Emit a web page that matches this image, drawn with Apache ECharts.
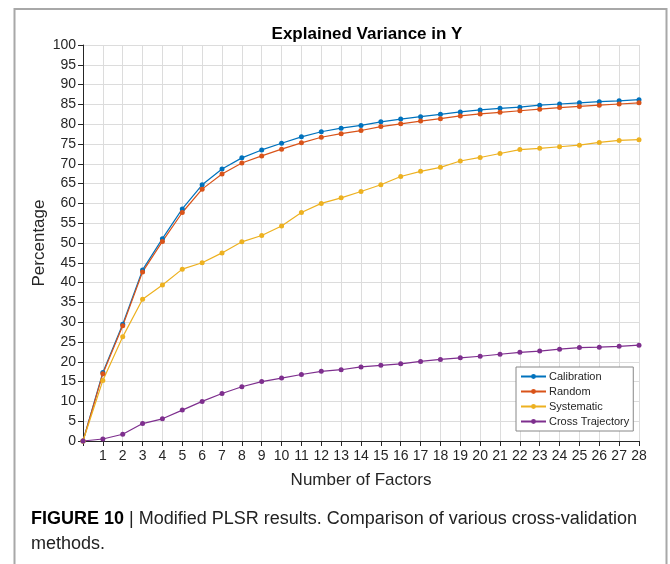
<!DOCTYPE html>
<html>
<head>
<meta charset="utf-8">
<script src="https://cdn.jsdelivr.net/npm/echarts@6/dist/echarts.min.js"></script>
<style>
html,body{margin:0;padding:0;background:#fff;}
#chart{width:670px;height:564px;}
</style>
</head>
<body>
<div id="chart"></div>
<script>
var factors = [0,1,2,3,4,5,6,7,8,9,10,11,12,13,14,15,16,17,18,19,20,21,22,23,24,25,26,27,28];
var calibration = [0,17.3,29.5,43.2,51.1,58.6,64.7,68.7,71.5,73.5,75.2,76.8,78.1,79.0,79.7,80.6,81.3,81.9,82.5,83.1,83.6,84.0,84.3,84.8,85.1,85.4,85.7,85.9,86.2];
var random = [0,17.0,29.1,42.7,50.4,57.7,63.6,67.4,70.2,72.0,73.7,75.3,76.7,77.6,78.4,79.4,80.1,80.8,81.4,82.1,82.6,83.0,83.4,83.8,84.2,84.5,84.8,85.1,85.4];
var systematic = [0,15.3,26.3,35.8,39.4,43.4,45.0,47.5,50.3,51.9,54.3,57.7,60.0,61.4,63.0,64.7,66.8,68.1,69.1,70.7,71.6,72.6,73.6,73.9,74.3,74.7,75.4,75.9,76.1];
var crossTrajectory = [0,0.5,1.7,4.4,5.6,7.8,10.0,12.0,13.7,15.0,15.9,16.8,17.6,18.0,18.7,19.1,19.5,20.1,20.6,21.0,21.4,21.9,22.4,22.7,23.2,23.6,23.7,23.9,24.2];
var seriesNames = ['Calibration','Random','Systematic','Cross Trajectory'];
var seriesColors = ['#0072BD','#D95319','#EDB120','#7E2F8E'];
var titleText = 'Explained Variance in Y';
var xName = 'Number of Factors';
var yName = 'Percentage';

function pairs(vals){ return factors.map(function(f,i){ return [f, vals[i]]; }); }
var allVals = [calibration, random, systematic, crossTrajectory];

var FONT = 'Liberation Sans, Arial, sans-serif';
var chart = echarts.init(document.getElementById('chart'), null, {renderer:'canvas'});
chart.setOption({
  animation:false,
  backgroundColor:'#fff',
  title:{text:titleText,left:362,top:21,textAlign:'center',
    textStyle:{fontFamily:FONT,fontSize:17,fontWeight:'bold',color:'#000'}},
  grid:{left:83,right:31,top:45,bottom:123,containLabel:false},
  legend:{
    orient:'vertical',left:516,top:367,
    data:seriesNames,
    itemWidth:25,itemHeight:6,itemGap:4,
    padding:[4,4,4,4],
    borderColor:'#888',borderWidth:1,backgroundColor:'#fff',
    textStyle:{fontFamily:FONT,fontSize:11,color:'#262626',padding:[0,0,0,-2]}
  },
  xAxis:{type:'value',min:0,max:28,interval:1,
    name:xName,nameLocation:'middle',nameGap:31,nameMoveOverlap:false,
    nameTextStyle:{fontFamily:FONT,fontSize:17,color:'#262626'},
    axisLine:{show:true,onZero:false,lineStyle:{color:'#262626',width:1}},
    axisTick:{show:true,inside:false,length:5,lineStyle:{color:'#262626'}},
    axisLabel:{fontFamily:FONT,fontSize:14,color:'#262626',margin:8,
      formatter:function(v){return v===0?'':String(v);}},
    splitLine:{show:true,lineStyle:{color:'#dcdcdc',width:1}}
  },
  yAxis:{type:'value',min:0,max:100,interval:5,
    name:yName,nameLocation:'middle',nameGap:35,nameRotate:90,nameMoveOverlap:false,
    nameTextStyle:{fontFamily:FONT,fontSize:17,color:'#262626'},
    axisLine:{show:true,onZero:false,lineStyle:{color:'#262626',width:1}},
    axisTick:{show:true,inside:false,length:5,lineStyle:{color:'#262626'}},
    axisLabel:{fontFamily:FONT,fontSize:14,color:'#262626',margin:7},
    splitLine:{show:true,lineStyle:{color:'#dcdcdc',width:1}}
  },
  series: seriesNames.map(function(n,i){
    return {name:n,type:'line',data:pairs(allVals[i]),
      symbol:'circle',symbolSize:5,showSymbol:true,
      lineStyle:{color:seriesColors[i],width:1.2},
      itemStyle:{color:seriesColors[i]}};
  }),
  graphic:[
    {type:'polyline',shape:{points:[[14.5,564],[14.5,9],[666.5,9],[666.5,564]]},
      style:{stroke:'#a8a8a8',lineWidth:2,fill:null},silent:true},
    {type:'text',left:31,top:510,
      style:{text:'{b|FIGURE 10} | Modified PLSR results. Comparison of various cross-validation',
        rich:{b:{fontWeight:'bold',fontFamily:FONT,fontSize:18,fill:'#000'}},
        fontFamily:FONT,fontSize:18,fill:'#222'}},
    {type:'text',left:31,top:535,
      style:{text:'methods.',fontFamily:FONT,fontSize:18,fill:'#222'}}
  ]
});
</script>
</body>
</html>
